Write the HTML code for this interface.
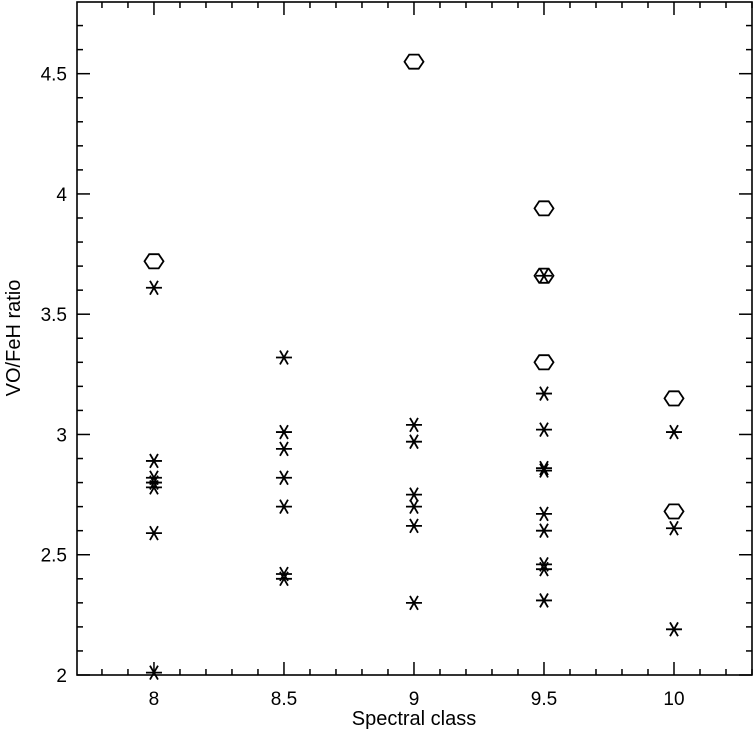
<!DOCTYPE html>
<html><head><meta charset="utf-8"><style>
html,body{margin:0;padding:0;background:#fff;}
svg{display:block;font-family:"Liberation Sans",sans-serif;}
</style></head><body>
<svg id="chart" width="753" height="732" xmlns="http://www.w3.org/2000/svg"></svg>
<script>
const starX = [8,8,8,8,8,8,8, 8.5,8.5,8.5,8.5,8.5,8.5,8.5, 9,9,9,9,9,9, 9.5,9.5,9.5,9.5,9.5,9.5,9.5,9.5,9.5,9.5, 10,10,10];
const starY = [3.61,2.89,2.82,2.80,2.78,2.59,2.01, 3.32,3.01,2.94,2.82,2.70,2.42,2.40, 3.04,2.97,2.75,2.70,2.62,2.30, 3.66,3.17,3.02,2.86,2.85,2.67,2.60,2.46,2.44,2.31, 3.01,2.61,2.19];
const hexX = [8,9,9.5,9.5,9.5,10,10];
const hexY = [3.72,4.55,3.94,3.66,3.30,3.15,2.68];
const xTicks = [8,8.5,9,9.5,10];
const xTickLabels = ["8","8.5","9","9.5","10"];
const yTicks = [2,2.5,3,3.5,4,4.5];
const yTickLabels = ["2","2.5","3","3.5","4","4.5"];

const svg = document.getElementById('chart');
const NS = 'http://www.w3.org/2000/svg';
const L=77,R=752,T=2,B=675;
const xMin=7.704,xMax=10.30,yMin=2,yMax=4.798;
const sx=v=>L+(v-xMin)/(xMax-xMin)*(R-L);
const sy=v=>B-(v-yMin)/(yMax-yMin)*(B-T);
function mk(tag,attrs,parent){const e=document.createElementNS(NS,tag);for(const k in attrs)e.setAttribute(k,attrs[k]);(parent||svg).appendChild(e);return e;}

const frame=mk('rect',{x:L,y:T,width:R-L,height:B-T,fill:'none',stroke:'#000','stroke-width':1.6});



const ticks=mk('g',{stroke:'#000','stroke-width':1.5});


for(let i=77;i<=103;i++){const v=i/10;const px=sx(v);if(px<L||px>R)continue;const major=(i%5===0);const len=major?13:6;
 mk('line',{x1:px,y1:B,x2:px,y2:B-len},ticks);mk('line',{x1:px,y1:T,x2:px,y2:T+len},ticks);}
for(let i=20;i<=48;i++){const v=i/10;const py=sy(v);if(py<T||py>B)continue;const major=(i%5===0);const len=major?13:6;
 mk('line',{x1:L,y1:py,x2:L+len,y2:py},ticks);mk('line',{x1:R,y1:py,x2:R-len,y2:py},ticks);}

xTicks.forEach((v,i)=>{const t=mk('text',{x:sx(v),y:B+30,'text-anchor':'middle','font-size':19});t.textContent=xTickLabels[i];
 });
yTicks.forEach((v,i)=>{const t=mk('text',{x:L-10,y:sy(v)+7,'text-anchor':'end','font-size':19});t.textContent=yTickLabels[i];
 });

const xt=mk('text',{x:414,y:725,'text-anchor':'middle','font-size':20});xt.textContent='Spectral class';

const yt=mk('text',{x:0,y:0,'text-anchor':'middle','font-size':20,transform:'translate(20,338) rotate(-90)'});yt.textContent='VO/FeH ratio';


const stars=mk('g',{stroke:'#000','stroke-width':1.8,fill:'none'});

for(let i=0;i<Math.min(starX.length,starY.length);i++){
 const cx=sx(starX[i]),cy=sy(starY[i]),r=8;
 const g=mk('g',{},stars);
 
 [0,60,120].forEach(a=>{const rad=a*Math.PI/180;mk('line',{x1:cx-r*Math.cos(rad),y1:cy-r*Math.sin(rad),x2:cx+r*Math.cos(rad),y2:cy+r*Math.sin(rad)},g);});
}
const hexes=mk('g',{stroke:'#000','stroke-width':1.8,fill:'none'});

hexX.forEach((xv,i)=>{const cx=sx(xv),cy=sy(hexY[i]);const r=9.5;const pts=[];
 for(let k=0;k<6;k++){const a=k*Math.PI/3;pts.push((cx+r*Math.cos(a)).toFixed(1)+','+(cy+r*0.86*Math.sin(a)).toFixed(1));}
 const p=mk('polygon',{points:pts.join(' ')},hexes);
 });
</script>
</body></html>
